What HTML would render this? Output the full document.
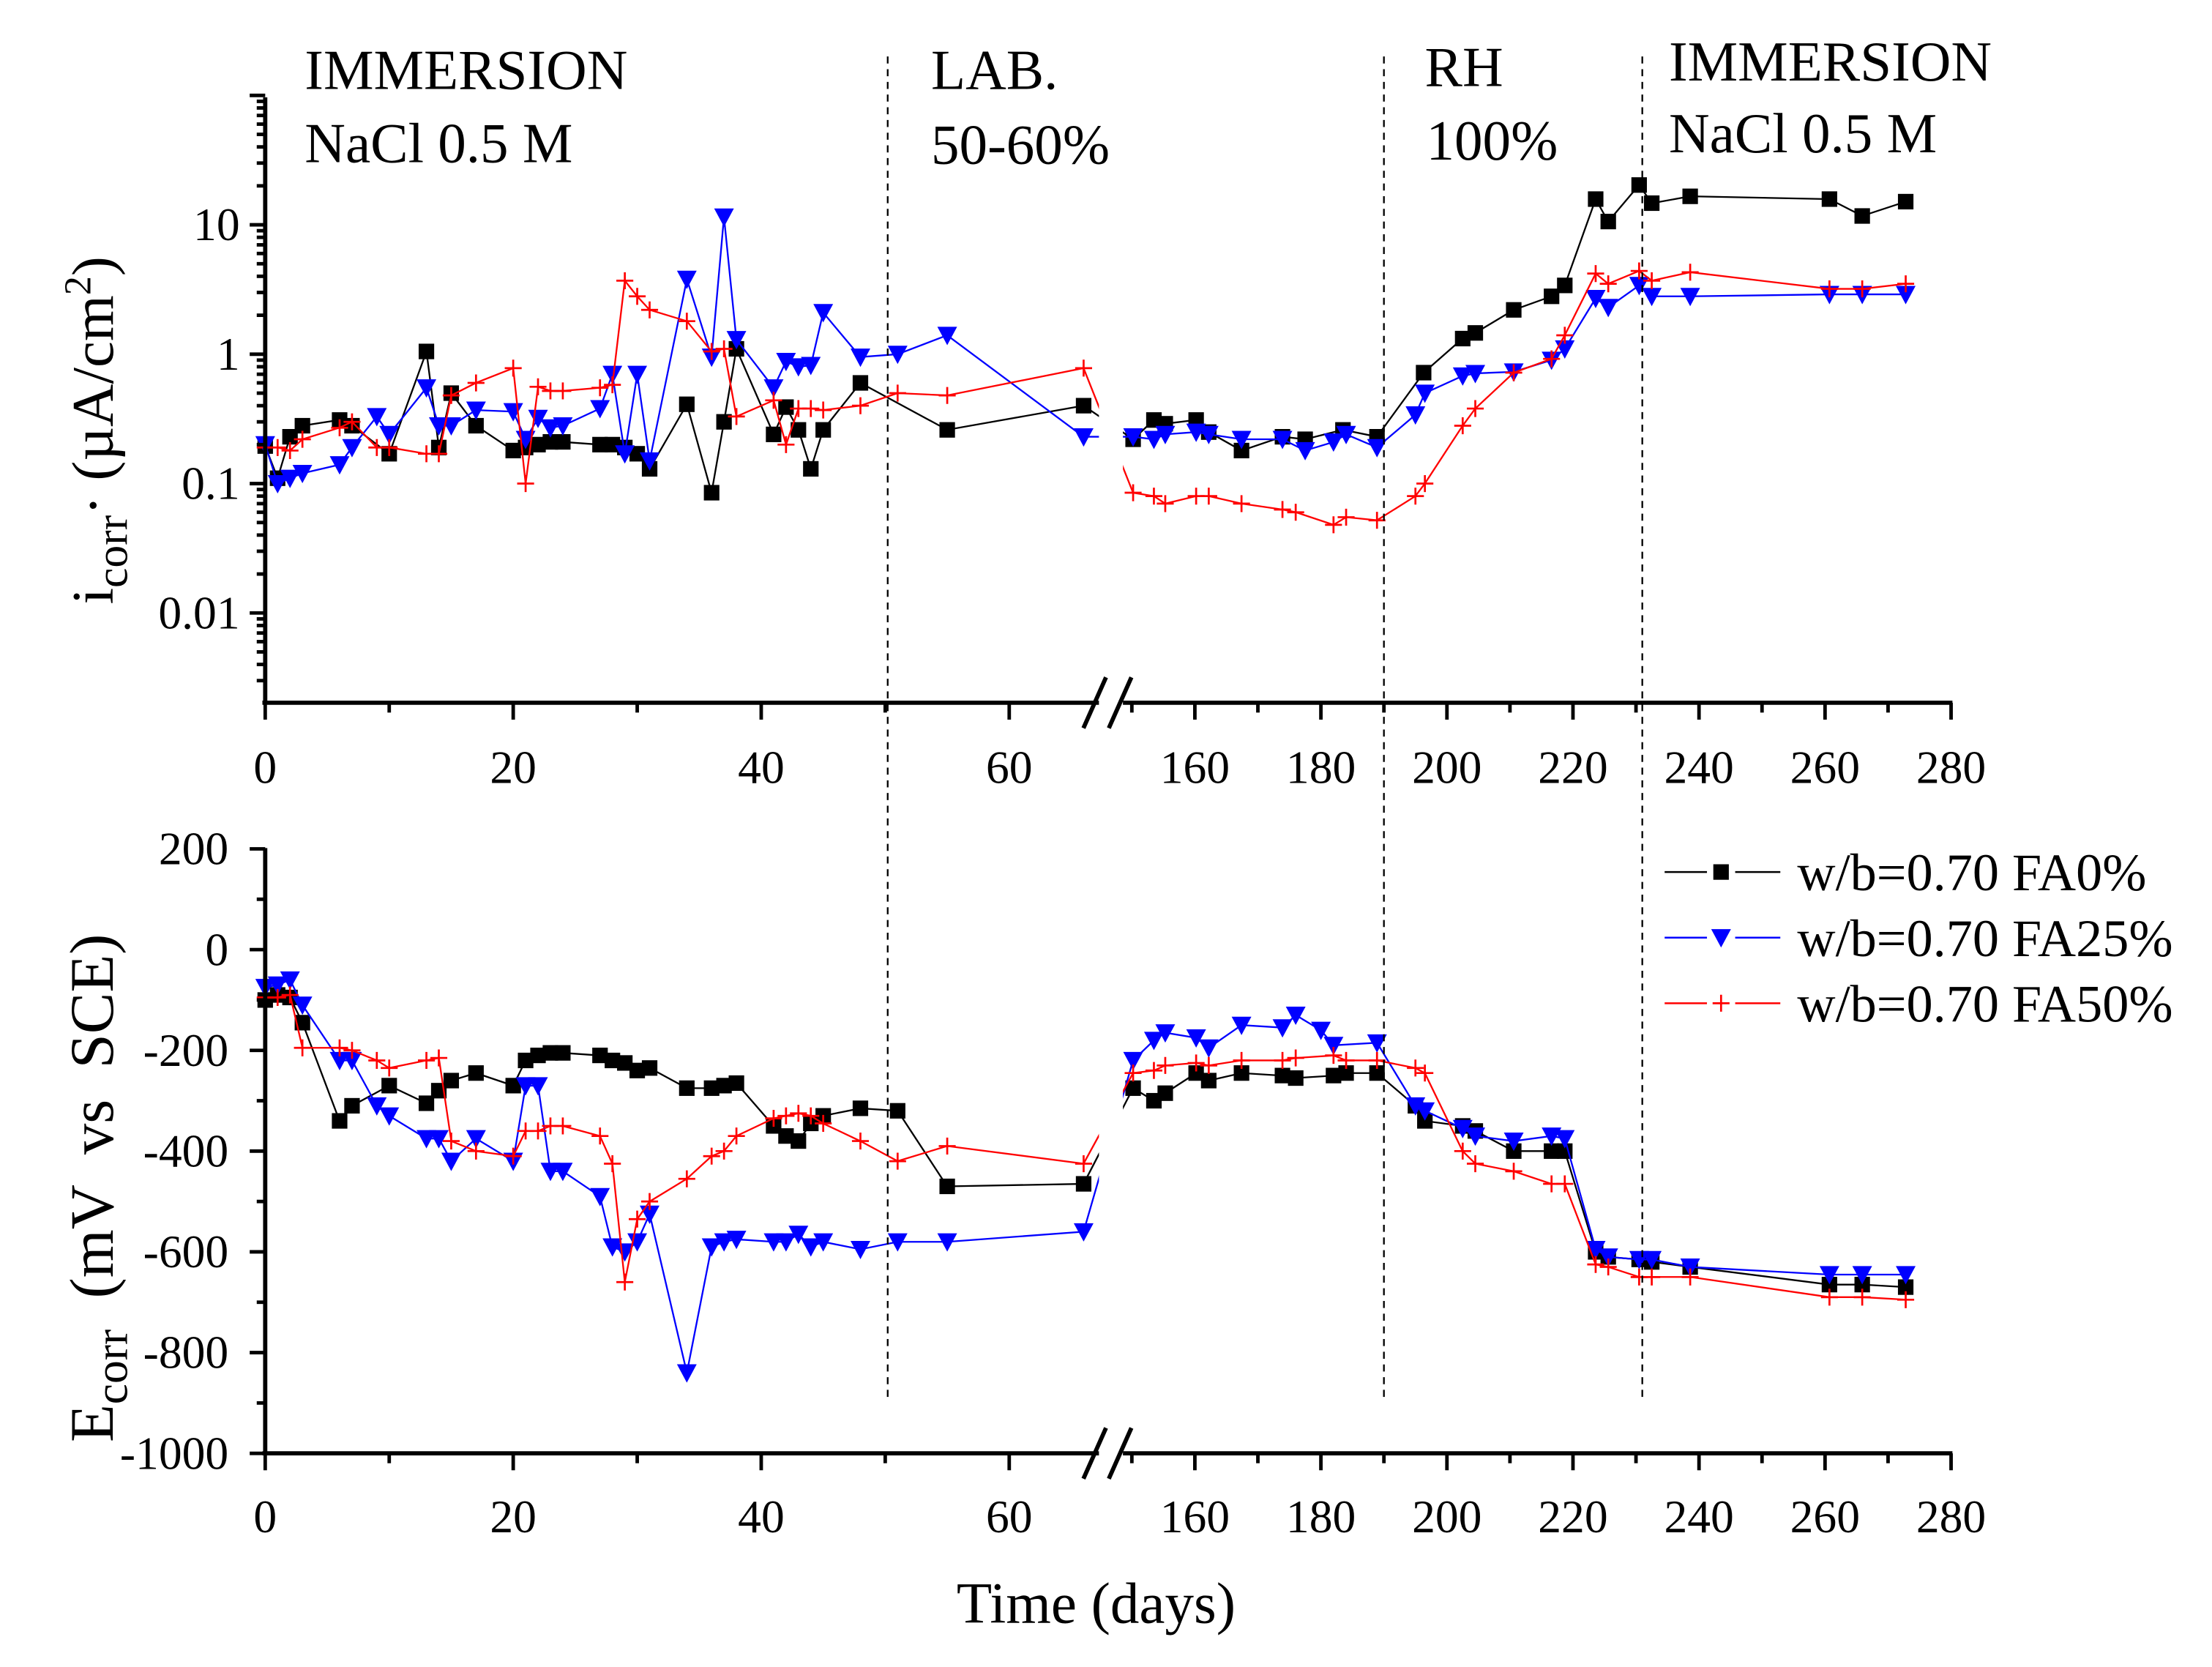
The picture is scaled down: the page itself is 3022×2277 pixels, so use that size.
<!DOCTYPE html>
<html><head><meta charset="utf-8"><style>
html,body{margin:0;padding:0;background:#fff}
svg{display:block}
text{font-family:"Liberation Serif",serif;fill:#000}
</style></head><body>
<svg id="chart" width="3022" height="2277" viewBox="0 0 1568 1181.4" xmlns="http://www.w3.org/2000/svg">
<g id="g"></g>
</svg>
<script>
// ---- data ----
const daysFA0 = [0,1,2,3,6,7,10,13,14,15,17,20,21,22,23,24,27,28,29,30,31,34,36,37,38,41,42,43,44,45,48,55,66,150.2,153.5,155.3,160.2,162.2,167.4,173.9,177.5,183.5,188.9,196.3,202.5,204.5,210.6,216.6,218.7,223.6,225.6,230.5,232.5,238.6,260.7,265.9,272.8];
const icorrFA0 = [0.195,0.11,0.23,0.28,0.31,0.28,0.17,1.05,0.19,0.5,0.28,0.18,0.19,0.2,0.21,0.21,0.2,0.2,0.19,0.17,0.13,0.41,0.085,0.3,1.1,0.24,0.39,0.26,0.13,0.26,0.6,0.26,0.4,0.22,0.31,0.29,0.31,0.25,0.18,0.23,0.22,0.26,0.23,0.72,1.32,1.46,2.2,2.8,3.4,15.8,10.6,20.3,14.7,16.6,15.8,11.7,15.1];
const daysEFA0 = [0,1,2,3,6,7,10,13,14,15,17,20,21,22,23,24,27,28,29,30,31,34,36,37,38,41,42,43,44,45,48,51,55,66,150.2,153.5,155.3,160.2,162.2,167.4,173.9,176,182,184,188.9,195,196.5,202.5,204.5,210.6,216.6,218.7,223.6,225.6,230.5,232.5,238.6,260.7,265.9,272.8];
const ecorrFA0 = [-100,-90,-95,-145,-340,-310,-270,-305,-280,-260,-245,-270,-220,-210,-205,-205,-210,-220,-225,-240,-235,-275,-275,-270,-265,-350,-370,-380,-345,-330,-315,-320,-470,-465,-275,-300,-285,-245,-260,-245,-250,-255,-250,-245,-245,-310,-340,-350,-360,-400,-400,-400,-600,-610,-615,-620,-630,-665,-665,-670];

const daysFA25 = [0,1,2,3,6,7,9,10,13,14,15,17,20,21,22,23,24,27,28,29,30,31,34,36,37,38,41,42,43,44,45,48,51,55,66,150.2,153.5,155.3,160.2,162.2,167.4,173.9,177.5,182,184,188.9,195,196.5,202.5,204.5,210.6,216.6,218.7,223.6,225.6,230.5,232.5,238.6,260.7,265.9,272.8];
const icorrFA25 = [0.2,0.1,0.11,0.12,0.14,0.19,0.33,0.24,0.55,0.28,0.28,0.37,0.36,0.22,0.32,0.27,0.28,0.38,0.7,0.17,0.7,0.15,3.8,0.95,11.5,1.3,0.55,0.88,0.8,0.82,2.1,0.95,1.0,1.4,0.23,0.23,0.22,0.24,0.25,0.24,0.22,0.22,0.18,0.21,0.24,0.19,0.34,0.5,0.68,0.71,0.73,0.9,1.1,2.7,2.3,3.4,2.8,2.8,2.9,2.9,2.9];
const daysEFA25 = [0,1,2,3,6,7,9,10,13,14,15,17,20,21,22,23,24,27,28,29,30,31,34,36,37,38,41,42,43,44,45,48,51,55,66,150.2,153.5,155.3,160.2,162.2,167.4,173.9,176,180,182,188.9,195,196.5,202.5,204.5,210.6,216.6,218.7,223.6,225.6,230.5,232.5,238.6,260.7,265.9,272.8];
const ecorrFA25 = [-75,-70,-60,-110,-220,-220,-310,-330,-375,-375,-420,-375,-420,-270,-270,-440,-440,-490,-590,-600,-580,-525,-840,-590,-580,-575,-580,-580,-565,-590,-580,-595,-580,-580,-560,-220,-180,-165,-175,-195,-150,-155,-130,-160,-190,-185,-310,-320,-355,-370,-380,-370,-375,-595,-610,-615,-615,-630,-645,-645,-645];

const daysFA50 = [0,1,2,3,6,7,9,10,13,14,15,17,20,21,22,23,24,27,28,29,30,31,34,36,37,38,41,42,43,44,45,48,51,55,66,150.2,153.5,155.3,160.2,162.2,167.4,173.9,176,182,184,188.9,195,196.5,202.5,204.5,210.6,216.6,218.7,223.6,225.6,230.5,232.5,238.6,260.7,265.9,272.8];
const icorrFA50 = [0.19,0.19,0.18,0.22,0.27,0.3,0.19,0.19,0.17,0.17,0.48,0.6,0.78,0.1,0.56,0.52,0.52,0.55,0.58,3.7,2.8,2.2,1.8,1.05,1.1,0.33,0.44,0.2,0.38,0.38,0.37,0.4,0.5,0.48,0.78,0.085,0.08,0.07,0.08,0.08,0.07,0.063,0.06,0.048,0.055,0.052,0.08,0.1,0.28,0.38,0.72,0.92,1.4,4.2,3.5,4.4,3.7,4.3,3.2,3.2,3.5];
const ecorrFA50 = [-95,-95,-90,-195,-195,-200,-220,-235,-220,-215,-380,-400,-410,-360,-360,-350,-350,-370,-425,-660,-535,-500,-455,-410,-400,-370,-335,-330,-325,-330,-345,-380,-420,-390,-425,-245,-240,-230,-225,-230,-220,-220,-215,-210,-220,-220,-235,-245,-400,-425,-440,-465,-465,-625,-630,-650,-650,-650,-690,-690,-695];

const xTickLabels = [0,20,40,60,160,180,200,220,240,260,280];
const iTickLabels = ["0.01","0.1","1","10"];
const eTickLabels = [200,0,-200,-400,-600,-800,-1000];

// ---- scales ----
function xs(d){ return d<=100 ? 188 + d*8.79 : 847 + (d-160)*4.467; }
function yi(v){ return 251 - Math.log10(v)*91.7; }
function ye(v){ return 673 - v*0.357; }

const NS="http://www.w3.org/2000/svg";
const g=document.getElementById('g');
function mk(tag,attrs,parent){const e=document.createElementNS(NS,tag);for(const k in attrs)e.setAttribute(k,attrs[k]);(parent||g).appendChild(e);return e;}

function drawSeries(days,vals,yf,color,marker,name){
  const grp=mk('g',{});
  
  
  const pts=days.map((d,i)=>xs(d).toFixed(1)+','+yf(vals[i]).toFixed(1)).join(' ');
  const pl=mk('polyline',{points:pts,fill:'none',stroke:color,'stroke-width':1.2},grp);
  
  
  days.forEach((d,i)=>{
    const x=xs(d),y=yf(vals[i]);
    let m;
    if(marker==='sq') m=mk('rect',{x:x-5.5,y:y-5.5,width:11,height:11,fill:color},grp);
    else if(marker==='tri') m=mk('polygon',{points:`${x-7},${y-6} ${x+7},${y-6} ${x},${y+7}`,fill:color},grp);
    else m=mk('path',{d:`M${x-6},${y}H${x+6}M${x},${y-6}V${y+6}`,stroke:color,'stroke-width':1.4},grp);
    
    
  });
}

drawSeries(daysFA0,icorrFA0,yi,'#000','sq','icorr-fa0');
drawSeries(daysFA25,icorrFA25,yi,'#00f','tri','icorr-fa25');
drawSeries(daysFA50,icorrFA50,yi,'#f00','plus','icorr-fa50');
drawSeries(daysEFA0,ecorrFA0,ye,'#000','sq','ecorr-fa0');
drawSeries(daysEFA25,ecorrFA25,ye,'#00f','tri','ecorr-fa25');
drawSeries(daysFA50,ecorrFA50,ye,'#f00','plus','ecorr-fa50');

[[40,500],[560,1030]].forEach(r=>{
  const w=mk('rect',{x:779,y:r[0],width:17,height:r[1]-r[0],fill:'#fff'});
  
  
});

[50.2,190,231].forEach(d=>{
  const l=mk('line',{x1:xs(d),x2:xs(d),y1:40,y2:992,stroke:'#000','stroke-width':1.2,'stroke-dasharray':'5,4'});
  
  
});

function xAxis(yAxis,labelY,name){
  const ax=mk('g',{});
  
  
  mk('line',{x1:186,x2:1384,y1:yAxis,y2:yAxis,stroke:'#000','stroke-width':3},ax);
  const minor=[];
  for(let d=0;d<=67;d+=10)minor.push(d);
  for(let d=150;d<=280;d+=10)minor.push(d);
  minor.forEach(d=>{const big=xTickLabels.includes(d);mk('line',{x1:xs(d),x2:xs(d),y1:yAxis,y2:yAxis+(big?12:7),stroke:'#000','stroke-width':2.5},ax);});
  xTickLabels.forEach(d=>{const t=mk('text',{x:xs(d),y:labelY,'font-size':33,'text-anchor':'middle'},ax);t.textContent=d;
    
    });
  mk('rect',{x:779,y:yAxis-3,width:17,height:6,fill:'#fff'},ax);
  mk('line',{x1:768,x2:784,y1:yAxis+18,y2:yAxis-18,stroke:'#000','stroke-width':3},ax);
  mk('line',{x1:786,x2:802,y1:yAxis+18,y2:yAxis-18,stroke:'#000','stroke-width':3},ax);
}
xAxis(498,555,'top-x-axis');
xAxis(1030,1086,'bottom-x-axis');

(function(){
  const ax=mk('g',{});
  
  
  mk('line',{x1:188,x2:188,y1:69,y2:499,stroke:'#000','stroke-width':3},ax);
  for(let e=-3;e<2;e++){for(let k=1;k<10;k++){const v=k*Math.pow(10,e);const y=yi(v);if(y>498||y<68)continue;
    mk('line',{x1:188,x2:188-(k===1?11:6),y1:y,y2:y,stroke:'#000','stroke-width':2.5},ax);}}
  mk('line',{x1:188,x2:177,y1:yi(100),y2:yi(100),stroke:'#000','stroke-width':2.5},ax);
  iTickLabels.forEach(s=>{const t=mk('text',{x:170,y:yi(parseFloat(s))+11,'font-size':33,'text-anchor':'end'},ax);t.textContent=s;
    
    });
})();
(function(){
  const ax=mk('g',{});
  
  
  mk('line',{x1:188,x2:188,y1:601,y2:1031,stroke:'#000','stroke-width':3},ax);
  for(let v=200;v>=-1000;v-=100){const y=ye(v);mk('line',{x1:188,x2:188-(v%200===0?11:6),y1:y,y2:y,stroke:'#000','stroke-width':2.5},ax);}
  eTickLabels.forEach(v=>{const t=mk('text',{x:162,y:ye(v)+11,'font-size':33,'text-anchor':'end'},ax);t.textContent=v;
    
    });
})();

const legendNames=['w/b=0.70 FA0%','w/b=0.70 FA25%','w/b=0.70 FA50%'];
const legendColors=['#000','#00f','#f00'];
const legendMarkers=['sq','tri','plus'];
legendNames.forEach((n,i)=>{
  const y=618+i*46.5;
  const lg=mk('g',{});
  
  
  mk('line',{x1:1180,x2:1210,y1:y,y2:y,stroke:legendColors[i],'stroke-width':1.3},lg);
  mk('line',{x1:1230,x2:1262,y1:y,y2:y,stroke:legendColors[i],'stroke-width':1.3},lg);
  const x=1220;
  if(legendMarkers[i]==='sq')mk('rect',{x:x-5.5,y:y-5.5,width:11,height:11,fill:'#000'},lg);
  else if(legendMarkers[i]==='tri')mk('polygon',{points:`${x-7},${y-6} ${x+7},${y-6} ${x},${y+7}`,fill:'#00f'},lg);
  else mk('path',{d:`M${x-6},${y}H${x+6}M${x},${y-6}V${y+6}`,stroke:'#f00','stroke-width':1.4},lg);
  const t=mk('text',{x:1274,y:y+13,'font-size':37.5},lg);t.textContent=n;
});
</script>
<svg style="position:absolute;left:0;top:0" width="3022" height="2277" viewBox="0 0 1568 1181.4" xmlns="http://www.w3.org/2000/svg">
<g font-family="Liberation Serif, serif" font-size="40">
<text x="216" y="63">IMMERSION</text>
<text x="216" y="115">NaCl 0.5 M</text>
<text x="660" y="63">LAB.</text>
<text x="660" y="116">50-60%</text>
<text x="1010" y="61">RH</text>
<text x="1011" y="113">100%</text>
<text x="1183" y="57">IMMERSION</text>
<text x="1183" y="108">NaCl 0.5 M</text>
</g>
<text x="777" y="1150" font-family="Liberation Serif, serif" font-size="41" text-anchor="middle">Time (days)</text>
<text transform="translate(80,305) rotate(-90)" font-family="Liberation Serif, serif" font-size="42" text-anchor="middle">i<tspan font-size="32" dy="10">corr</tspan><tspan dy="-10">· (µA/cm</tspan><tspan font-size="27" dy="-16">2</tspan><tspan dy="16">)</tspan></text>
<text transform="translate(80,842) rotate(-90)" font-family="Liberation Serif, serif" font-size="44" text-anchor="middle">E<tspan font-size="33" dy="10">corr</tspan><tspan dy="-10" xml:space="preserve">  (mV  vs  SCE)</tspan></text>
</svg>
</body></html>
